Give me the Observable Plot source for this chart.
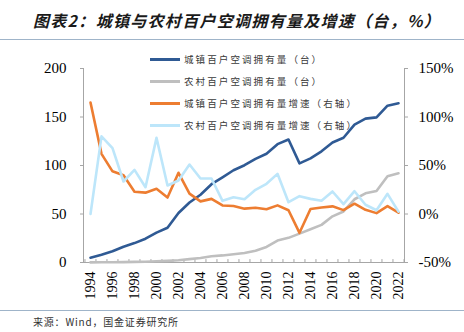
<!DOCTYPE html>
<html>
<head>
<meta charset="utf-8">
<script src="https://cdn.jsdelivr.net/npm/d3@7"></script>
<script src="https://cdn.jsdelivr.net/npm/@observablehq/plot@0.6"></script>
<style>
  html, body { margin: 0; padding: 0; background: #fff; }
  #wrap { position: relative; width: 464px; height: 332px; overflow: hidden; }
  #title { position: absolute; left: 33px; top: 8px; font-family: "Noto Sans CJK SC", sans-serif; font-weight: bold; font-style: italic; font-size: 16px; color: #1a1a1a; letter-spacing: 1.3px; white-space: nowrap; }
  #tline { position: absolute; left: 0; top: 39px; width: 464px; height: 1px; background: #9fb4c9; }
  #bline { position: absolute; left: 0; top: 310px; width: 464px; height: 1px; background: #9fb4c9; }
  #source { position: absolute; left: 33px; top: 314px; font-family: "Noto Sans CJK SC", sans-serif; font-size: 10px; color: #333; letter-spacing: 0.8px; white-space: nowrap; }
  #chart { position: absolute; left: 0; top: 0; }
  #legend { position: absolute; left: 150px; top: 48px; font-family: "Noto Sans CJK SC", sans-serif; font-size: 9.5px; color: #3a3a3a; letter-spacing: 2.1px; }
  .li { display: flex; align-items: center; height: 22px; white-space: nowrap; }
  .sw { width: 30px; height: 3px; margin-right: 4px; }
</style>
</head>
<body>
<div id="wrap">
  <div id="chart"></div>
  <div id="title"></div>
  <div id="tline"></div>
  <div id="legend"></div>
  <div id="bline"></div>
  <div id="source"></div>
</div>
<script>
const titleText = "图表2：城镇与农村百户空调拥有量及增速（台，%）";
const sourceText = "来源：Wind，国金证券研究所";
const seriesNames = ["城镇百户空调拥有量（台）", "农村百户空调拥有量（台）", "城镇百户空调拥有量增速（右轴）", "农村百户空调拥有量增速（右轴）"];
const seriesColors = ["#2f5a94", "#bfbfbf", "#ed7d31", "#bde6fa"];

const years = [1994,1995,1996,1997,1998,1999,2000,2001,2002,2003,2004,2005,2006,2007,2008,2009,2010,2011,2012,2013,2014,2015,2016,2017,2018,2019,2020,2021,2022];
const xTickYears = [1994,1996,1998,2000,2002,2004,2006,2008,2010,2012,2014,2016,2018,2020,2022];
const leftTicks = [0, 50, 100, 150, 200];
const rightTicks = [-50, 0, 50, 100, 150];

// 城镇百户空调拥有量（台）
const urban = [5.0,8.1,11.6,16.3,20.0,24.5,30.8,35.8,51.1,61.8,69.8,80.7,87.8,95.1,100.3,106.8,112.1,122.0,126.8,102.2,107.4,114.6,123.7,128.6,142.2,148.3,149.6,161.7,164.2];
// 农村百户空调拥有量（台）
const rural = [0.1,0.2,0.3,0.4,0.6,0.7,1.3,1.7,2.3,3.5,4.7,6.4,7.3,8.5,9.8,12.2,16.0,22.6,25.4,29.8,34.2,38.8,47.6,52.6,65.2,71.3,73.8,89.0,92.0];
// 城镇百户空调拥有量增速（右轴, %）
const urbanGrowth = [115,62,44,40,23,22,26,17,42.5,21,13,15.6,8.8,8.3,5.5,6.5,4.9,8.9,3.9,-19.4,5.1,6.7,7.9,4.0,10.6,4.3,0.9,8.1,1.3];
// 农村百户空调拥有量增速（右轴, %）
const ruralGrowth = [0,80,68,33.5,45.5,27.6,78.5,29.4,34.5,51,36.6,36.6,13.6,17.3,15.3,24.9,31.1,41.4,12.2,18.4,15.6,13.6,23.2,10.1,23.5,9.5,3.9,20.8,2.4];

document.getElementById("title").textContent = titleText;
document.getElementById("source").textContent = sourceText;

const leg = document.getElementById("legend");
seriesNames.forEach((n, i) => {
  const row = document.createElement("div"); row.className = "li";
  const sw = document.createElement("div"); sw.className = "sw"; sw.style.background = seriesColors[i];
  const t = document.createElement("span"); t.textContent = n;
  row.appendChild(sw); row.appendChild(t); leg.appendChild(row);
});

const rows = years.map((y, i) => ({year: y, urban: urban[i], rural: rural[i], ug: urbanGrowth[i], rg: ruralGrowth[i]}));
// right axis (-50%..150%) shares the left scale (0..200) with an offset of 50
const toLeft = v => v + 50;

const W = 464, H = 310, ML = 83, MR = 60, MT = 68, MB = 48;
const step = (W - ML - MR) / years.length;
const serif = "'Liberation Serif', 'Times New Roman', serif";

const chart = Plot.plot({
  width: W, height: H,
  marginTop: MT, marginBottom: MB, marginLeft: ML, marginRight: MR,
  style: {fontFamily: serif, background: "transparent", color: "#000"},
  x: {type: "point", domain: years, padding: 0.5},
  y: {domain: [0, 200]},
  marks: [
    Plot.frame({anchor: "left", stroke: "#a6a6a6"}),
    Plot.frame({anchor: "right", stroke: "#a6a6a6"}),
    Plot.ruleY([0], {stroke: "#a6a6a6"}),
    Plot.ruleX(years, {x: d => d, y1: 0, y2: 3, dx: -step / 2, stroke: "#a6a6a6"}),
    Plot.ruleX([years[years.length - 1]], {x: d => d, y1: 0, y2: 3, dx: step / 2, stroke: "#a6a6a6"}),
    Plot.axisY(leftTicks, {anchor: "left", tickSize: 3, tickPadding: 14, stroke: "#a6a6a6", fill: "#000", fontSize: 15, fontFamily: serif, label: null}),
    Plot.axisY(rightTicks.map(toLeft), {anchor: "right", tickSize: 3, tickPadding: 11, stroke: "#a6a6a6", fill: "#000", fontSize: 15, fontFamily: serif, label: null, tickFormat: d => `${d - 50}%`}),
    Plot.axisX(xTickYears, {anchor: "bottom", tickSize: 0, tickPadding: 9, tickRotate: -90, fontSize: 14, fontFamily: serif, fill: "#000", label: null, tickFormat: d => String(d)}),
    Plot.lineY(rows, {x: "year", y: "urban", stroke: seriesColors[0], strokeWidth: 2.6}),
    Plot.lineY(rows, {x: "year", y: "rural", stroke: seriesColors[1], strokeWidth: 2.6}),
    Plot.lineY(rows, {x: "year", y: d => toLeft(d.ug), stroke: seriesColors[2], strokeWidth: 2.6}),
    Plot.lineY(rows, {x: "year", y: d => toLeft(d.rg), stroke: seriesColors[3], strokeWidth: 2.6})
  ]
});
document.getElementById("chart").appendChild(chart);
</script>
</body>
</html>
